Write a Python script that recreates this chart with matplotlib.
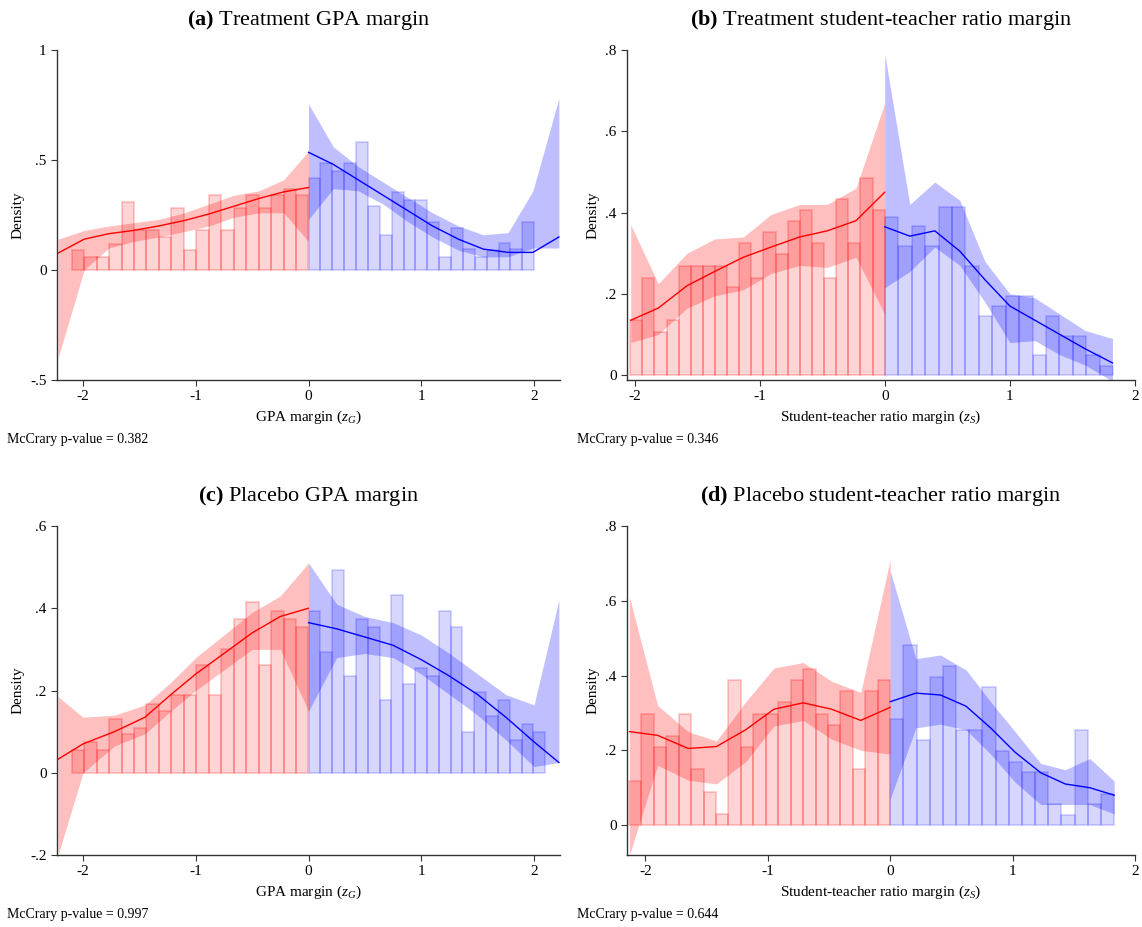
import numpy as np
import matplotlib
matplotlib.use("Agg")
import matplotlib.pyplot as plt

plt.rcParams['font.family'] = ['Liberation Serif', 'DejaVu Serif']
plt.rcParams['mathtext.fontset'] = 'custom'
plt.rcParams['mathtext.rm'] = 'Liberation Serif'
plt.rcParams['mathtext.it'] = 'Liberation Serif:italic'
plt.rcParams['mathtext.bf'] = 'Liberation Serif:bold'

# ---- Panel (a) ----
a_left_start, a_left_w = -2.10, 0.1105
a_left_h = [0.09,0.06,0.06,0.12,0.31,0.18,0.18,0.15,0.28,0.09,0.18,0.34,0.18,0.28,0.34,0.28,0.34,0.37,0.34]
a_right_w = 0.1053
a_right_h = [0.42,0.485,0.45,0.485,0.58,0.29,0.16,0.355,0.32,0.32,0.22,0.06,0.19,0.095,0.06,0.09,0.125,0.095,0.22]
a_rx = [-2.22,-1.99,-1.77,-1.55,-1.33,-1.1,-0.88,-0.66,-0.44,-0.22,0]
a_ry = [0.077,0.14,0.165,0.18,0.2,0.225,0.255,0.29,0.325,0.355,0.375]
a_rlo = [-0.4,0.0,0.1,0.13,0.15,0.175,0.2,0.24,0.26,0.26,0.13]
a_rhi = [0.14,0.18,0.2,0.215,0.23,0.26,0.3,0.34,0.36,0.41,0.54]
a_bx = [0,0.22,0.44,0.66,0.88,1.1,1.33,1.55,1.77,1.99,2.22]
a_by = [0.535,0.48,0.41,0.34,0.27,0.2,0.14,0.095,0.08,0.08,0.15]
a_blo = [0.23,0.37,0.36,0.3,0.22,0.15,0.09,0.06,0.06,0.1,0.1]
a_bhi = [0.755,0.56,0.47,0.4,0.33,0.26,0.2,0.16,0.17,0.36,0.78]

# ---- Panel (b) ----
b_left_start, b_left_w = -2.035, 0.0969
b_left_h = [0.135,0.24,0.107,0.135,0.269,0.269,0.269,0.269,0.217,0.325,0.24,0.352,0.297,0.379,0.407,0.325,0.24,0.433,0.325,0.486,0.407]
b_right_w = 0.1074
b_right_h = [0.39,0.317,0.366,0.317,0.414,0.414,0.269,0.146,0.17,0.195,0.195,0.049,0.146,0.097,0.097,0.049,0.023]
b_rx = [-2.03,-1.81,-1.58,-1.36,-1.13,-0.91,-0.68,-0.46,-0.23,0]
b_ry = [0.135,0.165,0.22,0.255,0.29,0.315,0.34,0.355,0.38,0.45]
b_rlo = [0.08,0.1,0.165,0.195,0.21,0.25,0.27,0.265,0.29,0.15]
b_rhi = [0.37,0.225,0.3,0.335,0.34,0.395,0.42,0.42,0.46,0.67]
b_bx = [0,0.2,0.4,0.6,0.8,1.0,1.2,1.4,1.6,1.82]
b_by = [0.365,0.342,0.355,0.305,0.235,0.17,0.135,0.1,0.065,0.03]
b_blo = [0.215,0.255,0.315,0.27,0.18,0.08,0.085,0.05,0.025,-0.015]
b_bhi = [0.79,0.42,0.475,0.43,0.28,0.2,0.19,0.15,0.11,0.09]

# ---- Panel (c) ----
c_left_start, c_left_w = -2.10, 0.1105
c_left_h = [0.055,0.075,0.055,0.13,0.094,0.11,0.168,0.15,0.188,0.188,0.263,0.188,0.3,0.375,0.414,0.263,0.394,0.375,0.355]
c_right_w = 0.105
c_right_h = [0.394,0.294,0.492,0.236,0.375,0.355,0.177,0.433,0.216,0.254,0.236,0.394,0.355,0.099,0.196,0.138,0.177,0.08,0.118,0.099]
c_rx = [-2.22,-2.0,-1.72,-1.45,-1.22,-1.0,-0.75,-0.5,-0.25,0]
c_ry = [0.033,0.07,0.1,0.135,0.19,0.24,0.29,0.34,0.38,0.4]
c_rlo = [-0.2,0.0,0.065,0.095,0.15,0.2,0.25,0.3,0.3,0.15]
c_rhi = [0.185,0.135,0.14,0.165,0.22,0.28,0.335,0.39,0.43,0.51]
c_bx = [0,0.25,0.5,0.75,1.0,1.25,1.5,1.75,2.0,2.22]
c_by = [0.365,0.35,0.33,0.31,0.275,0.235,0.19,0.135,0.075,0.025]
c_blo = [0.15,0.28,0.29,0.28,0.24,0.19,0.14,0.08,0.015,0.025]
c_bhi = [0.51,0.41,0.38,0.365,0.335,0.29,0.24,0.19,0.165,0.42]

# ---- Panel (d) ----
d_left_start, d_left_w = -2.135, 0.1017
d_left_h = [0.119,0.298,0.209,0.238,0.298,0.15,0.088,0.03,0.388,0.209,0.298,0.298,0.329,0.388,0.418,0.298,0.268,0.359,0.15,0.359,0.388]
d_right_w = 0.1076
d_right_h = [0.283,0.482,0.228,0.396,0.426,0.255,0.255,0.37,0.199,0.169,0.142,0.142,0.056,0.027,0.255,0.056,0.084]
d_rx = [-2.13,-1.9,-1.65,-1.42,-1.18,-0.95,-0.71,-0.48,-0.24,0]
d_ry = [0.25,0.24,0.205,0.21,0.255,0.31,0.327,0.31,0.28,0.315]
d_rlo = [-0.08,0.16,0.12,0.11,0.17,0.265,0.28,0.23,0.2,0.19]
d_rhi = [0.61,0.32,0.25,0.225,0.33,0.42,0.435,0.385,0.355,0.71]
d_bx = [0,0.21,0.41,0.62,0.82,1.02,1.23,1.43,1.63,1.83]
d_by = [0.33,0.353,0.348,0.318,0.26,0.195,0.14,0.11,0.1,0.08]
d_blo = [0.07,0.26,0.27,0.255,0.19,0.115,0.055,0.055,0.055,0.03]
d_bhi = [0.68,0.445,0.455,0.415,0.33,0.25,0.165,0.148,0.178,0.118]

titles = ["(a)", "(b)", "(c)", "(d)"]
title_txt = ["Treatment GPA margin", "Treatment student-teacher ratio margin",
             "Placebo GPA margin", "Placebo student-teacher ratio margin"]
xlabels = ["GPA margin ($z_G$)", "Student-teacher ratio margin ($z_S$)",
           "GPA margin ($z_G$)", "Student-teacher ratio margin ($z_S$)"]
pvals = ["0.382", "0.346", "0.997", "0.644"]

panels = [
    (a_left_start, a_left_w, a_left_h, a_right_w, a_right_h, a_rx, a_ry, a_rlo, a_rhi, a_bx, a_by, a_blo, a_bhi,
     (-2.23, 2.23), (-0.5, 1.0), [-0.5, 0, 0.5, 1]),
    (b_left_start, b_left_w, b_left_h, b_right_w, b_right_h, b_rx, b_ry, b_rlo, b_rhi, b_bx, b_by, b_blo, b_bhi,
     (-2.06, 2.0), (-0.012, 0.8), [0, 0.2, 0.4, 0.6, 0.8]),
    (c_left_start, c_left_w, c_left_h, c_right_w, c_right_h, c_rx, c_ry, c_rlo, c_rhi, c_bx, c_by, c_blo, c_bhi,
     (-2.23, 2.23), (-0.2, 0.6), [-0.2, 0, 0.2, 0.4, 0.6]),
    (d_left_start, d_left_w, d_left_h, d_right_w, d_right_h, d_rx, d_ry, d_rlo, d_rhi, d_bx, d_by, d_blo, d_bhi,
     (-2.15, 2.0), (-0.08, 0.8), [0, 0.2, 0.4, 0.6, 0.8]),
]

def fmt(v):
    if abs(v) < 1e-9:
        return "0"
    if float(v).is_integer():
        return str(int(v))
    s = f"{v:g}"
    return s.replace("0.", ".")

fig = plt.figure(figsize=(11.42, 9.27), dpi=100)
W, H = 1142, 927
pos = [(57, 50, 503, 330), (627, 50, 508, 330), (57, 526, 503, 329), (627, 526, 508, 329)]
RED = (1, 0, 0); BLUE = (0, 0, 1)

for i, p in enumerate(panels):
    (ls, lw, lh, rw, rh, rx, ry, rlo, rhi, bx, by, blo, bhi, xl, yl, yt) = p
    x0, y0, w, h = pos[i]
    ax = fig.add_axes([x0 / W, 1 - (y0 + h) / H, w / W, h / H])
    lx = ls + lw * np.arange(len(lh))
    ax.bar(lx, lh, width=lw, align='edge', color=(1, 0, 0, 0.17), edgecolor=(1, 0, 0, 0.22), linewidth=1.2)
    bxs = rw * np.arange(len(rh))
    ax.bar(bxs, rh, width=rw, align='edge', color=(0, 0, 1, 0.16), edgecolor=(0, 0, 1, 0.18), linewidth=1.2)
    ax.fill_between(rx, rlo, rhi, color=RED, alpha=0.25, linewidth=0)
    ax.fill_between(bx, blo, bhi, color=BLUE, alpha=0.25, linewidth=0)
    ax.plot(rx, ry, color='red', lw=1.0)
    ax.plot(bx, by, color='blue', lw=1.0)
    ax.set_xlim(*xl); ax.set_ylim(*yl)
    ax.set_xticks([-2, -1, 0, 1, 2])
    ax.set_yticks(yt)
    ax.set_yticklabels([fmt(v) for v in yt])
    ax.set_xticklabels(["-2", "-1", "0", "1", "2"])
    for s in ['top', 'right']:
        ax.spines[s].set_visible(False)
    for s in ['left', 'bottom']:
        ax.spines[s].set_color('#333333'); ax.spines[s].set_linewidth(1.0)
    ax.tick_params(labelsize=11, length=4, color='#333333')
    ax.set_ylabel("Density", fontsize=11)
    ax.set_xlabel(xlabels[i], fontsize=11)
    ax.set_title(r"$\mathbf{" + titles[i] + r"}$ " + title_txt[i], fontsize=16, pad=18)
    fig.text((x0 - 50) / W, 1 - (y0 + h + 63) / H, "McCrary p-value = " + pvals[i], fontsize=10)

fig.savefig("out.png", dpi=100)
